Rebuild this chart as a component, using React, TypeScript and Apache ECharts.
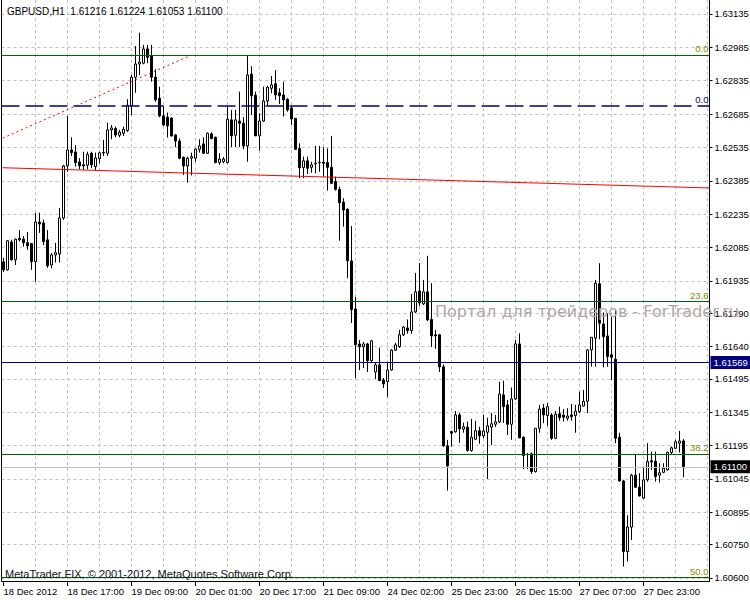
import React, { useEffect, useRef } from 'react';
import * as echarts from 'echarts';

// ---- data (GBPUSD, H1) ----
const opens = [
  1.62021, 1.61985, 1.62110, 1.62030, 1.62127, 1.62123, 1.62107, 1.62103, 1.62022, 1.62200,
  1.62196, 1.62120, 1.62007, 1.62052, 1.62056, 1.62218, 1.62452, 1.62524, 1.62515, 1.62470,
  1.62457, 1.62455, 1.62509, 1.62449, 1.62485, 1.62510, 1.62509, 1.62614, 1.62620, 1.62590,
  1.62599, 1.62611, 1.62722, 1.62851, 1.62910, 1.62914, 1.62978, 1.62948, 1.62851, 1.62756,
  1.62677, 1.62671, 1.62667, 1.62591, 1.62564, 1.62491, 1.62452, 1.62487, 1.62487, 1.62527,
  1.62551, 1.62509, 1.62596, 1.62581, 1.62467, 1.62471, 1.62467, 1.62659, 1.62590, 1.62654,
  1.62644, 1.62542, 1.62865, 1.62770, 1.62587, 1.62654, 1.62744, 1.62801, 1.62821, 1.62781,
  1.62771, 1.62752, 1.62713, 1.62666, 1.62530, 1.62444, 1.62475, 1.62446, 1.62461, 1.62467,
  1.62469, 1.62467, 1.62446, 1.62382, 1.62347, 1.62289, 1.62257, 1.62025, 1.61809, 1.61652,
  1.61639, 1.61652, 1.61577, 1.61526, 1.61558, 1.61490, 1.61483, 1.61535, 1.61624, 1.61640,
  1.61693, 1.61724, 1.61712, 1.61796, 1.61890, 1.61832, 1.61886, 1.61762, 1.61693, 1.61693,
  1.61549, 1.61194, 1.61258, 1.61257, 1.61333, 1.61269, 1.61278, 1.61173, 1.61224, 1.61262,
  1.61239, 1.61255, 1.61278, 1.61291, 1.61301, 1.61423, 1.61378, 1.61291, 1.61405, 1.61652,
  1.61233, 1.61156, 1.61158, 1.61078, 1.61273, 1.61364, 1.61330, 1.61333, 1.61228, 1.61338,
  1.61332, 1.61318, 1.61333, 1.61330, 1.61347, 1.61373, 1.61394, 1.61625, 1.61678, 1.61922,
  1.61742, 1.61688, 1.61603, 1.61583, 1.61233, 1.61036, 1.60719, 1.60829, 1.61062, 1.61008,
  1.60959, 1.61041, 1.61127, 1.61125, 1.61062, 1.61075, 1.61086, 1.61164, 1.61183, 1.61206,
  1.61216,
];
const highs = [
  1.62039, 1.62118, 1.62120, 1.62125, 1.62164, 1.62137, 1.62155, 1.62106, 1.62241, 1.62242,
  1.62211, 1.62164, 1.62060, 1.62106, 1.62263, 1.62457, 1.62677, 1.62581, 1.62546, 1.62487,
  1.62516, 1.62516, 1.62516, 1.62512, 1.62516, 1.62569, 1.62647, 1.62636, 1.62629, 1.62614,
  1.62629, 1.62752, 1.62861, 1.62991, 1.63051, 1.62996, 1.62996, 1.62996, 1.62887, 1.62808,
  1.62722, 1.62692, 1.62671, 1.62595, 1.62576, 1.62494, 1.62494, 1.62512, 1.62531, 1.62572,
  1.62581, 1.62602, 1.62604, 1.62584, 1.62509, 1.62492, 1.62719, 1.62704, 1.62704, 1.62786,
  1.62671, 1.62951, 1.62901, 1.62786, 1.62689, 1.62808, 1.62812, 1.62856, 1.62883, 1.62801,
  1.62831, 1.62756, 1.62722, 1.62666, 1.62554, 1.62494, 1.62494, 1.62471, 1.62542, 1.62542,
  1.62536, 1.62531, 1.62587, 1.62404, 1.62359, 1.62307, 1.62262, 1.62182, 1.61863, 1.61670,
  1.61661, 1.61657, 1.61670, 1.61567, 1.61635, 1.61499, 1.61568, 1.61629, 1.61657, 1.61715,
  1.61733, 1.61762, 1.61877, 1.61971, 1.62016, 1.61940, 1.62048, 1.61925, 1.61715, 1.61697,
  1.61560, 1.61221, 1.61262, 1.61351, 1.61342, 1.61298, 1.61303, 1.61315, 1.61307, 1.61280,
  1.61333, 1.61320, 1.61342, 1.61333, 1.61481, 1.61487, 1.61400, 1.61456, 1.61670, 1.61700,
  1.61236, 1.61161, 1.61164, 1.61273, 1.61378, 1.61382, 1.61386, 1.61341, 1.61350, 1.61370,
  1.61359, 1.61363, 1.61382, 1.61378, 1.61438, 1.61445, 1.61628, 1.61682, 1.61940, 1.62015,
  1.61793, 1.61790, 1.61775, 1.61805, 1.61253, 1.61041, 1.60882, 1.61068, 1.61158, 1.61071,
  1.61101, 1.61206, 1.61168, 1.61168, 1.61116, 1.61116, 1.61167, 1.61191, 1.61221, 1.61261,
  1.61224,
];
const lows = [
  1.61976, 1.61982, 1.62027, 1.62007, 1.62112, 1.62089, 1.62075, 1.61985, 1.61932, 1.62151,
  1.62097, 1.61994, 1.61992, 1.62018, 1.62018, 1.62209, 1.62426, 1.62497, 1.62449, 1.62437,
  1.62434, 1.62437, 1.62442, 1.62434, 1.62464, 1.62497, 1.62497, 1.62572, 1.62581, 1.62581,
  1.62587, 1.62605, 1.62680, 1.62781, 1.62861, 1.62909, 1.62914, 1.62831, 1.62741, 1.62671,
  1.62632, 1.62580, 1.62584, 1.62537, 1.62482, 1.62412, 1.62377, 1.62410, 1.62471, 1.62512,
  1.62506, 1.62506, 1.62572, 1.62464, 1.62457, 1.62464, 1.62464, 1.62537, 1.62537, 1.62537,
  1.62527, 1.62471, 1.62681, 1.62587, 1.62521, 1.62651, 1.62722, 1.62779, 1.62749, 1.62731,
  1.62674, 1.62696, 1.62636, 1.62524, 1.62397, 1.62397, 1.62416, 1.62422, 1.62419, 1.62426,
  1.62404, 1.62341, 1.62374, 1.62341, 1.62116, 1.62179, 1.61947, 1.61746, 1.61499, 1.61535,
  1.61544, 1.61526, 1.61571, 1.61495, 1.61487, 1.61454, 1.61414, 1.61532, 1.61620, 1.61634,
  1.61688, 1.61698, 1.61698, 1.61791, 1.61823, 1.61827, 1.61755, 1.61639, 1.61630, 1.61526,
  1.61189, 1.60993, 1.61191, 1.61253, 1.61208, 1.61253, 1.61168, 1.61168, 1.61221, 1.61203,
  1.61228, 1.61045, 1.61198, 1.61279, 1.61296, 1.61297, 1.61243, 1.61221, 1.61400, 1.61228,
  1.61089, 1.61089, 1.61068, 1.61074, 1.61253, 1.61296, 1.61284, 1.61221, 1.61224, 1.61307,
  1.61303, 1.61307, 1.61307, 1.61253, 1.61341, 1.61370, 1.61341, 1.61550, 1.61550, 1.61673,
  1.61547, 1.61550, 1.61490, 1.61206, 1.61033, 1.60651, 1.60674, 1.60771, 1.61004, 1.60966,
  1.60955, 1.61033, 1.61086, 1.61033, 1.61029, 1.61071, 1.61083, 1.61153, 1.61179, 1.61164,
  1.61053,
];
const closes = [
  1.61985, 1.62116, 1.62030, 1.62123, 1.62120, 1.62107, 1.62093, 1.62022, 1.62200, 1.62191,
  1.62112, 1.62003, 1.62052, 1.62062, 1.62218, 1.62452, 1.62524, 1.62512, 1.62467, 1.62452,
  1.62452, 1.62504, 1.62457, 1.62488, 1.62511, 1.62513, 1.62614, 1.62623, 1.62591, 1.62604,
  1.62617, 1.62725, 1.62851, 1.62910, 1.62919, 1.62978, 1.62940, 1.62851, 1.62749, 1.62677,
  1.62636, 1.62632, 1.62587, 1.62564, 1.62487, 1.62452, 1.62487, 1.62494, 1.62528, 1.62542,
  1.62509, 1.62599, 1.62575, 1.62467, 1.62483, 1.62483, 1.62662, 1.62587, 1.62659, 1.62644,
  1.62542, 1.62861, 1.62767, 1.62587, 1.62654, 1.62744, 1.62806, 1.62816, 1.62771, 1.62768,
  1.62749, 1.62704, 1.62663, 1.62527, 1.62444, 1.62475, 1.62442, 1.62457, 1.62464, 1.62469,
  1.62464, 1.62446, 1.62374, 1.62347, 1.62287, 1.62254, 1.62026, 1.61807, 1.61648, 1.61639,
  1.61652, 1.61577, 1.61666, 1.61558, 1.61487, 1.61472, 1.61535, 1.61624, 1.61648, 1.61693,
  1.61728, 1.61712, 1.61796, 1.61886, 1.61836, 1.61886, 1.61760, 1.61688, 1.61688, 1.61549,
  1.61194, 1.61104, 1.61251, 1.61333, 1.61270, 1.61280, 1.61173, 1.61233, 1.61262, 1.61239,
  1.61261, 1.61284, 1.61293, 1.61302, 1.61427, 1.61370, 1.61291, 1.61405, 1.61652, 1.61230,
  1.61150, 1.61155, 1.61078, 1.61273, 1.61359, 1.61333, 1.61370, 1.61228, 1.61336, 1.61321,
  1.61323, 1.61328, 1.61325, 1.61350, 1.61378, 1.61394, 1.61625, 1.61682, 1.61925, 1.61745,
  1.61685, 1.61595, 1.61592, 1.61228, 1.61036, 1.60719, 1.60829, 1.61062, 1.61008, 1.60969,
  1.61041, 1.61123, 1.61121, 1.61056, 1.61073, 1.61093, 1.61165, 1.61185, 1.61212, 1.61216,
  1.61100,
];

const timeLabels = [
  '18 Dec 2012', '18 Dec 17:00', '19 Dec 09:00', '20 Dec 01:00', '20 Dec 17:00', '21 Dec 09:00',
  '24 Dec 02:00', '25 Dec 23:00', '26 Dec 15:00', '27 Dec 07:00', '27 Dec 23:00',
];
const BARS_PER_LABEL = 16;
const BARS_PER_GRID = 8;
const TOTAL_SLOTS = 177;

const priceTicks = [
  1.60600, 1.60750, 1.60895, 1.61045, 1.61195, 1.61345, 1.61495, 1.61640, 1.61790,
  1.61935, 1.62085, 1.62235, 1.62385, 1.62535, 1.62685, 1.62835, 1.62985, 1.63135,
];

const fibNames = ['0.0', '23.6', '38.2', '50.0'];
const fibLevels = [1.62951, 1.61843, 1.61158, 1.60604];
const dashedLevelName = '0.0';
const dashedLevel = 1.62722;
const blueLevel = 1.61569;
const bidPrice = 1.61100;

// trend lines: [bar index, price]
const trendLine = [[-0.3, 1.62444], [176.5, 1.62353]];
const dottedTrendLine = [[-0.2, 1.62577], [46.7, 1.62948]];

const titleText = 'GBPUSD,H1  1.61216 1.61224 1.61053 1.61100';
const copyrightText = 'MetaTrader FIX, \u00A9 2001-2012, MetaQuotes Software Corp.';
const watermarkText = '\u041F\u043E\u0440\u0442\u0430\u043B \u0434\u043B\u044F \u0442\u0440\u0435\u0439\u0434\u0435\u0440\u043E\u0432 - ForTrader.ru';

export default function App() {
  const ref = useRef<HTMLDivElement>(null);

  useEffect(() => {
    if (!ref.current) return;
    const chart = echarts.init(ref.current, null, { renderer: 'svg' });
    const font = '"Liberation Sans", Arial, sans-serif';
    const categories = Array.from({ length: TOTAL_SLOTS }, (_, i) => String(i));
    const candles = opens.map((o, i) => [o, closes[i], lows[i], highs[i]]);
    const labelTicks = timeLabels.map((_, k) => k * BARS_PER_LABEL);
    const gridTicks: number[] = [];
    for (let v = BARS_PER_GRID; v < TOTAL_SLOTS; v += BARS_PER_GRID) gridTicks.push(v);
    const yMin = 1.605865;
    const yMax = 1.631979;
    const gridLine = { color: '#c0c0c0', width: 1, type: [3, 3] as any };
    const fibColor = '#7f8a00';

    const option: any = {
      animation: false,
      backgroundColor: '#ffffff',
      grid: { left: 1.5, right: 40.5, top: 0, bottom: 19, containLabel: false, outerBoundsMode: 'none' },
      xAxis: [
        { type: 'category', data: categories, boundaryGap: true, show: false },
        {
          type: 'value', min: -0.5, max: TOTAL_SLOTS - 0.5, position: 'bottom',
          axisLine: { show: true, onZero: false, lineStyle: { color: '#000', width: 1 } },
          axisTick: { show: true, length: 5, customValues: labelTicks, lineStyle: { color: '#000' } },
          axisLabel: {
            customValues: labelTicks,
            formatter: (v: number) => timeLabels[Math.round(v / BARS_PER_LABEL)] ?? '',
            align: 'left', color: '#000', fontSize: 9.5, fontFamily: font, margin: 5,
          },
          splitLine: { show: false },
        },
        {
          type: 'value', min: -0.5, max: TOTAL_SLOTS - 0.5, position: 'top',
          axisLine: { show: false }, axisTick: { show: false, customValues: gridTicks },
          axisLabel: { show: false },
          splitLine: { show: true, lineStyle: gridLine },
        },
      ],
      yAxis: [
        {
          type: 'value', position: 'right', min: yMin, max: yMax,
          axisLine: { show: true, onZero: false, lineStyle: { color: '#000', width: 1 } },
          axisTick: { show: true, length: 3, customValues: priceTicks, lineStyle: { color: '#000' } },
          axisLabel: {
            customValues: priceTicks,
            formatter: (v: number) => v.toFixed(5),
            color: '#000', fontSize: 9.5, fontFamily: font, margin: 5,
          },
          splitLine: { show: true, lineStyle: gridLine },
        },
        {
          type: 'value', position: 'left', min: yMin, max: yMax,
          axisLine: { show: true, onZero: false, lineStyle: { color: '#000', width: 1 } },
          axisTick: { show: false }, axisLabel: { show: false }, splitLine: { show: false },
        },
      ],
      series: [
        {
          type: 'candlestick', xAxisIndex: 0, yAxisIndex: 0, data: candles,
          barWidth: 2, z: 2, silent: true,
          itemStyle: {
            color: '#ffffff', color0: '#000000',
            borderColor: '#000000', borderColor0: '#000000', borderColorDoji: '#000000',
            borderWidth: 1,
          },
          markLine: {
            symbol: ['none', 'none'], silent: true, animation: false, precision: 5,
            data: [
              ...fibLevels.map((v, k) => ({
                yAxis: v,
                lineStyle: { color: '#006400', width: 1, type: 'solid' },
                label: {
                  show: true, position: 'insideEndTop', formatter: fibNames[k],
                  color: fibColor, fontSize: 9.5, fontFamily: font, distance: 1,
                },
              })),
              {
                yAxis: dashedLevel,
                lineStyle: { color: '#000080', width: 1.5, type: [18, 6] },
                label: {
                  show: true, position: 'insideEndTop', formatter: dashedLevelName,
                  color: '#000080', fontSize: 9.5, fontFamily: font, distance: 1,
                },
              },
              {
                yAxis: blueLevel,
                lineStyle: { color: '#000080', width: 1, type: 'solid' },
                label: {
                  show: true, position: 'end', formatter: blueLevel.toFixed(5),
                  color: '#ffffff', backgroundColor: '#000080', padding: [2, 3, 1, 3],
                  fontSize: 9.5, fontFamily: font, distance: 1,
                },
              },
              {
                yAxis: bidPrice,
                lineStyle: { color: '#c0c0c0', width: 1, type: 'solid' },
                label: {
                  show: true, position: 'end', formatter: bidPrice.toFixed(5),
                  color: '#ffffff', backgroundColor: '#000000', padding: [2, 3, 1, 3],
                  fontSize: 9.5, fontFamily: font, distance: 1,
                },
              },
            ],
          },
        },
        {
          type: 'line', xAxisIndex: 1, yAxisIndex: 0, data: trendLine, symbol: 'none',
          lineStyle: { color: '#ff0000', width: 1 }, silent: true, z: 3,
        },
        {
          type: 'line', xAxisIndex: 1, yAxisIndex: 0, data: dottedTrendLine, symbol: 'none',
          lineStyle: { color: '#ff0000', width: 1, type: [2, 3] }, silent: true, z: 3,
        },
      ],
      graphic: [
        {
          type: 'text', x: 7, y: 11, z: 10,
          style: { text: titleText, fill: '#000000', font: `10px ${font}`, textVerticalAlign: 'middle' },
        },
        {
          type: 'text', x: 5, y: 574, z: 10,
          style: { text: copyrightText, fill: '#101020', font: `11px ${font}`, textVerticalAlign: 'middle' },
        },
        {
          type: 'text', x: 435, y: 311, z: 100,
          style: { text: watermarkText, fill: '#b4a4a4', font: `16px "DejaVu Sans", sans-serif`, textVerticalAlign: 'middle' },
        },
      ],
    };

    chart.setOption(option);
    return () => chart.dispose();
  }, []);

  return (
    <div
      ref={ref}
      style={{ position: 'fixed', left: 0, top: 0, width: 750, height: 600, background: '#fff' }}
    />
  );
}
